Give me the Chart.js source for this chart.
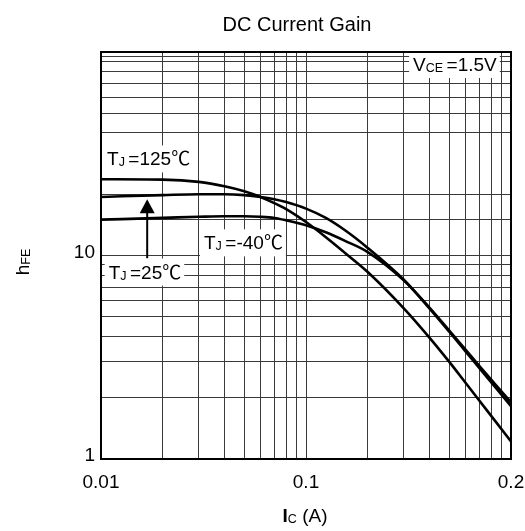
<!DOCTYPE html>
<html>
<head>
<meta charset="utf-8">
<script src="https://cdn.jsdelivr.net/npm/chart.js@4.4.1/dist/chart.umd.min.js"></script>
<style>
    html, body { margin: 0; padding: 0; background: #fff; }
</style>
</head>
<body>
<canvas id="graficoGanho" width="525" height="531"></canvas>
<script>
// Ic (A) - the axis runs from 0.01 to 1 (decade), the datasheet labels its end "0.2"
const correnteIc = [0.01, 0.02, 0.03, 0.04, 0.05, 0.06, 0.07, 0.08, 0.1, 0.125, 0.155, 0.2, 0.3, 0.4, 0.5, 0.6, 0.7, 0.84, 1.0];
const hfe125 = [23.7, 23.6, 23.0, 21.9, 20.7, 19.4, 18.1, 16.9, 14.6, 12.3, 10.3, 8.3, 5.5, 3.95, 3.0, 2.37, 1.94, 1.53, 1.22];
const hfe25 = [19.4, 19.8, 20.0, 20.0, 19.8, 19.4, 18.9, 18.3, 17.0, 15.3, 13.3, 10.9, 7.6, 5.5, 4.22, 3.38, 2.80, 2.25, 1.82];
const hfeMenos40 = [15.0, 15.3, 15.5, 15.6, 15.6, 15.5, 15.3, 14.9, 14.1, 13.0, 11.8, 10.4, 7.55, 5.55, 4.28, 3.45, 2.87, 2.32, 1.90];

// grid lines / ticks
const gradeX = [0.01, 0.02, 0.03, 0.04, 0.05, 0.06, 0.07, 0.08, 0.09, 0.1, 0.2, 0.3, 0.4, 0.5, 0.6, 0.7, 0.8, 0.9, 1];
const rotulosX = { 0.01: '0.01', 0.1: '0.1', 1: '0.2' };
const gradeY = [1, 2, 3, 4, 5, 6, 7, 8, 9, 10, 15, 20, 40, 50, 60, 70, 80, 90, 95, 100];
const rotulosY = { 1: '1', 10: '10' };

const FONTE = "'Liberation Sans', Arial, 'Noto Sans CJK SC', sans-serif";

function montarSerie(valores) {
    return correnteIc.map((x, i) => ({ x: x, y: valores[i] }));
}

function textoComIndice(ctx, partes, x, y) {
    let cx = x;
    partes.forEach(([t, tam, extra]) => {
        ctx.font = (extra && extra.negrito ? 'bold ' : '') + tam + 'px ' + FONTE;
        ctx.fillText(t, cx, y + (extra && extra.dy ? extra.dy : 0));
        cx += ctx.measureText(t).width;
    });
    return cx - x;
}

function larguraTexto(ctx, partes) {
    let w = 0;
    partes.forEach(([t, tam, extra]) => {
        ctx.font = (extra && extra.negrito ? 'bold ' : '') + tam + 'px ' + FONTE;
        w += ctx.measureText(t).width;
    });
    return w;
}

const SUB = { dy: 1 };
const legendas = [
    { partes: [['T', 19], ['J ', 12.5, SUB], ['=125℃', 19]], x: 0.0107, y: 30.0 },
    { partes: [['T', 19], ['J ', 12.5, SUB], ['=-40℃', 19]], x: 0.0318, y: 11.6 },
    { partes: [['T', 19], ['J ', 12.5, SUB], ['=25℃', 19]], x: 0.0109, y: 8.34 },
    { partes: [['V', 19], ['CE ', 12.5, SUB], ['=1.5V', 19]], x: 0.333, y: 87.3 }
];
const seta = { x: 0.0168, de: 9.7, ate: 18.9 };

const pluginAnotacoes = {
    id: 'anotacoes',
    afterDatasetsDraw(chart) {
        const ctx = chart.ctx;
        const sx = chart.scales.x, sy = chart.scales.y;
        const area = chart.chartArea;
        ctx.save();
        ctx.textBaseline = 'alphabetic';

        legendas.forEach((l) => {
            const px = sx.getPixelForValue(l.x);
            const py = sy.getPixelForValue(l.y);
            const w = larguraTexto(ctx, l.partes);
            ctx.fillStyle = '#fff';
            ctx.fillRect(px - 4, py - 13, w + 7, 27);
            ctx.fillStyle = '#000';
            textoComIndice(ctx, l.partes, px, py + 7);
        });

        // arrow
        const ax = sx.getPixelForValue(seta.x);
        const y0 = sy.getPixelForValue(seta.de);
        const y1 = sy.getPixelForValue(seta.ate);
        ctx.strokeStyle = '#000';
        ctx.lineWidth = 2;
        ctx.beginPath();
        ctx.moveTo(ax, y0);
        ctx.lineTo(ax, y1 + 10);
        ctx.stroke();
        ctx.fillStyle = '#000';
        ctx.beginPath();
        ctx.moveTo(ax, y1);
        ctx.lineTo(ax - 7.5, y1 + 14);
        ctx.lineTo(ax + 7.5, y1 + 14);
        ctx.closePath();
        ctx.fill();

        // frame
        ctx.lineWidth = 2;
        ctx.strokeRect(area.left, area.top, area.right - area.left, area.bottom - area.top);

        // title and axis titles
        ctx.fillStyle = '#000';
        ctx.font = '20px ' + FONTE;
        ctx.textAlign = 'center';
        ctx.fillText('DC Current Gain', 297, 31);
        ctx.textAlign = 'left';

        const tituloX = [['I', 19, { negrito: true }], ['C', 12.5, SUB], [' (A)', 19]];
        const wx = larguraTexto(ctx, tituloX);
        textoComIndice(ctx, tituloX, 305 - wx / 2, 522);

        const tituloY = [['h', 19], ['FE', 12.5, SUB]];
        const wy = larguraTexto(ctx, tituloY);
        ctx.translate(29, 262);
        ctx.rotate(-Math.PI / 2);
        textoComIndice(ctx, tituloY, -wy / 2, 0);
        ctx.restore();
    }
};

function fixarLargura(largura) {
    return (scale) => {
        scale.width = largura;
        scale.paddingTop = scale.paddingBottom = 0;
    };
}

new Chart(document.getElementById('graficoGanho'), {
    type: 'scatter',
    data: {
        datasets: [
            { label: 'TJ=125', data: montarSerie(hfe125) },
            { label: 'TJ=25', data: montarSerie(hfe25) },
            { label: 'TJ=-40', data: montarSerie(hfeMenos40) }
        ]
    },
    options: {
        responsive: false,
        animation: false,
        showLine: true,
        layout: { padding: { left: 0, right: 14, top: 52, bottom: 0 } },
        elements: {
            point: { radius: 0 },
            line: { borderColor: '#000', borderWidth: 2.6, cubicInterpolationMode: 'monotone', fill: false }
        },
        plugins: { legend: { display: false }, tooltip: { enabled: false }, title: { display: false } },
        scales: {
            x: {
                type: 'logarithmic',
                min: 0.01,
                max: 1,
                afterBuildTicks: (scale) => { scale.ticks = gradeX.map((v) => ({ value: v })); },
                afterFit: (scale) => {
                    scale.height = 72;
                    scale.paddingLeft = scale.paddingRight = 0;
                },
                grid: { color: '#3a3a3a', lineWidth: 1, drawTicks: false },
                border: { color: '#000', width: 2 },
                ticks: {
                    autoSkip: false,
                    maxRotation: 0,
                    padding: 12,
                    color: '#000',
                    font: { family: FONTE, size: 19 },
                    callback: (v) => rotulosX[v] || ''
                }
            },
            y: {
                type: 'logarithmic',
                min: 1,
                max: 100,
                afterBuildTicks: (scale) => { scale.ticks = gradeY.map((v) => ({ value: v })); },
                afterFit: fixarLargura(101),
                grid: { color: '#3a3a3a', lineWidth: 1, drawTicks: false },
                border: { color: '#000', width: 2 },
                ticks: {
                    autoSkip: false,
                    padding: 6,
                    labelOffset: -3,
                    color: '#000',
                    font: { family: FONTE, size: 19 },
                    callback: (v) => rotulosY[v] || ''
                }
            }
        }
    },
    plugins: [pluginAnotacoes]
});
</script>
</body>
</html>
